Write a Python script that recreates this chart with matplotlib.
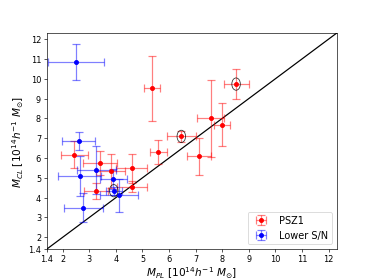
import matplotlib
matplotlib.use("Agg")
import matplotlib.pyplot as plt
from matplotlib.patches import Ellipse

# PSZ1 sample
psz_x = [8.52, 5.36, 6.46, 7.57, 8.00, 7.13, 5.60, 4.59, 3.80, 3.41, 2.44, 3.24, 4.61]
psz_y = [9.73, 9.52, 7.09, 8.00, 7.69, 6.08, 6.31, 5.47, 5.36, 5.74, 6.17, 4.35, 4.56]
psz_xerr = [0.47, 0.31, 0.54, 0.51, 0.30, 0.46, 0.31, 0.58, 0.56, 0.64, 0.50, 0.45, 0.55]
psz_yerr = [0.77, 1.65, 0.28, 1.93, 1.08, 0.93, 0.62, 0.75, 0.86, 0.60, 0.70, 0.40, 0.30]

# Lower S/N sample
low_x = [2.49, 2.60, 2.64, 3.27, 3.90, 3.92, 4.12, 2.78]
low_y = [10.85, 6.85, 5.08, 5.39, 4.93, 4.35, 4.11, 3.50]
low_xerr = [1.05, 0.61, 0.80, 0.75, 0.50, 0.30, 0.70, 0.72]
low_yerr = [0.92, 0.47, 1.00, 1.20, 0.50, 0.20, 0.83, 0.72]

# circled clusters
circ_x = [8.52, 6.46, 3.92]
circ_y = [9.73, 7.09, 4.35]

ticks = [1.4, 2, 3, 4, 5, 6, 7, 8, 9, 10, 11, 12]
lim = (1.4, 12.3)

fig = plt.figure(figsize=(6.4, 4.8), dpi=374/6.4)
ax = fig.add_subplot(111)

ax.plot(lim, lim, color='k', lw=1.5, zorder=1)

ax.errorbar(psz_x, psz_y, xerr=psz_xerr, yerr=psz_yerr, fmt='o', color='r',
            ecolor=(1, 0, 0, 0.5), markersize=5, capsize=5, elinewidth=1.5,
            capthick=1.5, label='PSZ1', zorder=3)
ax.errorbar(low_x, low_y, xerr=low_xerr, yerr=low_yerr, fmt='o', color='b',
            ecolor=(0, 0, 1, 0.5), markersize=5, capsize=5, elinewidth=1.5,
            capthick=1.5, label='Lower S/N', zorder=3)

for cx, cy in zip(circ_x, circ_y):
    ax.add_patch(Ellipse((cx, cy), 0.32, 0.62, fill=False, edgecolor='k',
                         lw=1.0, alpha=0.8, zorder=4))

ax.set_xlim(*lim)
ax.set_ylim(*lim)
ax.set_xticks(ticks)
ax.set_xticklabels([str(t) for t in ticks])
ax.set_yticks(ticks)
ax.set_yticklabels([str(t) for t in ticks])
ax.set_xlabel(r'$M_{PL}$ [$10^{14}h^{-1}\ M_{\odot}$]', fontsize=13, labelpad=1)
ax.set_ylabel(r'$M_{CL}$ [$10^{14}h^{-1}\ M_{\odot}$]', fontsize=13, labelpad=2)
ax.legend(loc='lower right', fontsize=12)

fig.savefig('out.png', dpi=374/6.4)
